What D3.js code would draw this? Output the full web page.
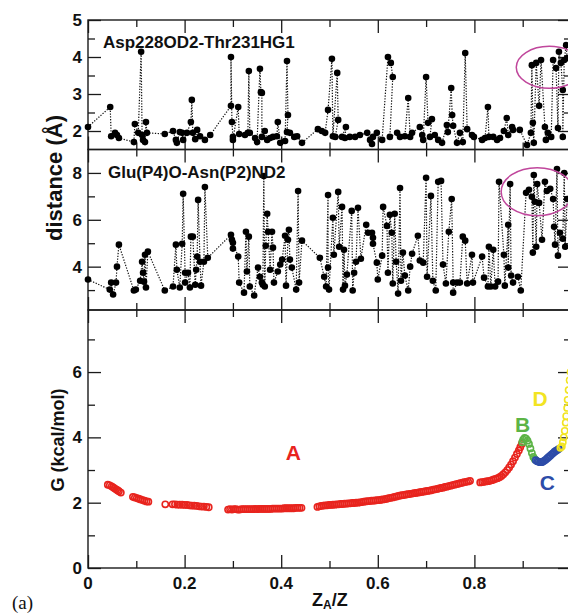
<!DOCTYPE html>
<html>
<head>
<meta charset="utf-8">
<script src="https://cdn.jsdelivr.net/npm/d3@7"></script>
<style>
body { margin: 0; background: #fff; }
svg { display: block; font-family: "Liberation Sans", Arial, sans-serif; }
</style>
</head>
<body>
<div id="chart"></div>
<script>
const [WIDTH, HEIGHT] = [568, 614]
const PLOT = { left: 88, right: 571 }

// top panel: Asp228OD2-Thr231HG1 distance vs Z_A/Z
const aspThr = [
  [0.000,2.11],[0.046,2.65],[0.048,1.86],[0.056,1.95],[0.060,1.89],[0.064,1.81],[0.095,1.70],[0.097,2.19],
  [0.104,1.95],[0.110,4.14],[0.112,1.89],[0.114,1.76],[0.118,1.70],[0.120,2.24],[0.122,1.95],[0.159,1.92],
  [0.176,2.00],[0.182,1.76],[0.184,1.68],[0.190,1.97],[0.195,1.95],[0.197,1.76],[0.205,1.95],[0.213,2.24],
  [0.215,2.84],[0.217,1.95],[0.222,1.78],[0.226,2.03],[0.232,1.86],[0.242,1.76],[0.253,1.89],[0.296,2.68],
  [0.296,4.00],[0.298,2.24],[0.300,1.84],[0.300,1.76],[0.311,2.65],[0.313,1.92],[0.325,1.89],[0.331,1.95],
  [0.333,3.62],[0.335,1.95],[0.346,1.81],[0.350,1.70],[0.356,3.68],[0.358,3.05],[0.360,3.03],[0.360,1.84],
  [0.366,2.00],[0.371,1.76],[0.377,1.81],[0.383,1.84],[0.391,1.86],[0.393,2.24],[0.398,1.68],[0.408,1.73],
  [0.412,3.89],[0.414,2.43],[0.412,1.97],[0.418,1.95],[0.427,1.84],[0.433,1.86],[0.443,1.68],[0.476,2.05],
  [0.484,2.00],[0.491,1.95],[0.497,2.57],[0.505,3.95],[0.507,1.86],[0.516,3.57],[0.518,2.30],[0.512,1.84],
  [0.526,1.84],[0.534,2.11],[0.532,1.81],[0.542,1.84],[0.553,1.84],[0.563,1.89],[0.578,1.95],[0.584,1.76],
  [0.588,1.65],[0.590,1.84],[0.598,1.95],[0.609,1.76],[0.621,4.00],[0.627,3.84],[0.631,3.46],[0.625,1.84],
  [0.640,1.95],[0.646,1.84],[0.656,1.86],[0.663,2.89],[0.667,1.84],[0.671,1.95],[0.687,2.11],[0.692,1.89],
  [0.694,1.76],[0.700,3.46],[0.704,2.22],[0.712,2.32],[0.708,1.84],[0.718,1.89],[0.725,1.76],[0.733,1.68],
  [0.743,2.16],[0.745,1.97],[0.752,3.16],[0.754,2.43],[0.756,2.14],[0.764,1.68],[0.770,1.95],[0.776,1.70],
  [0.781,4.11],[0.785,2.05],[0.795,1.89],[0.799,1.84],[0.816,1.76],[0.822,1.81],[0.828,2.65],[0.830,1.84],
  [0.839,1.84],[0.847,1.76],[0.853,1.81],[0.861,2.00],[0.867,2.35],[0.870,1.89],[0.878,2.11],[0.880,2.03],
  [0.894,2.03],[0.909,1.62],[0.917,1.95],[0.919,3.78],[0.921,2.22],[0.923,1.68],[0.928,3.84],[0.934,2.68],
  [0.938,3.92],[0.946,2.11],[0.948,1.76],[0.952,1.95],[0.959,1.84],[0.963,3.92],[0.969,3.70],[0.973,2.08],
  [0.975,4.14],[0.979,3.84],[0.983,3.11],[0.983,1.84],[0.986,3.92],[0.990,4.32],[0.992,3.97]
]

// middle panel: Glu(P4)O-Asn(P2)ND2 distance
const gluAsn = [
  [0.000,3.45],[0.045,3.02],[0.048,3.32],[0.052,2.81],[0.058,3.32],[0.060,4.00],[0.064,4.94],[0.095,2.98],
  [0.099,3.02],[0.108,3.40],[0.112,4.21],[0.114,3.74],[0.116,3.36],[0.118,4.51],[0.120,3.11],[0.124,4.64],
  [0.159,2.98],[0.176,3.15],[0.182,4.94],[0.184,3.87],[0.190,3.11],[0.195,4.98],[0.197,7.11],[0.201,3.74],
  [0.201,3.32],[0.207,3.74],[0.211,3.11],[0.213,5.28],[0.217,5.28],[0.222,3.23],[0.224,3.87],[0.226,4.43],
  [0.228,6.85],[0.232,4.21],[0.234,3.19],[0.240,4.21],[0.242,7.40],[0.248,4.38],[0.296,5.36],[0.298,5.15],
  [0.300,4.77],[0.300,5.02],[0.311,4.43],[0.313,3.32],[0.323,2.89],[0.327,5.49],[0.329,3.79],[0.333,5.28],
  [0.335,3.15],[0.344,2.77],[0.352,3.96],[0.356,3.57],[0.360,3.32],[0.362,3.23],[0.364,7.87],[0.366,3.15],
  [0.368,4.89],[0.371,6.26],[0.373,5.49],[0.377,3.87],[0.381,5.49],[0.383,4.81],[0.385,3.32],[0.393,3.79],
  [0.398,4.09],[0.402,4.30],[0.408,5.32],[0.410,3.19],[0.414,5.15],[0.416,5.57],[0.418,4.30],[0.422,3.96],
  [0.431,3.02],[0.435,7.23],[0.437,3.32],[0.443,5.11],[0.480,4.38],[0.489,3.57],[0.493,3.15],[0.497,7.06],
  [0.497,3.96],[0.499,3.02],[0.507,6.09],[0.509,4.51],[0.518,7.19],[0.520,4.85],[0.526,6.55],[0.528,3.02],
  [0.530,4.72],[0.532,3.19],[0.536,3.66],[0.546,6.38],[0.548,2.98],[0.551,3.74],[0.555,4.21],[0.559,6.51],
  [0.565,4.34],[0.576,5.79],[0.580,5.45],[0.588,5.45],[0.590,5.23],[0.590,4.98],[0.598,4.17],[0.600,3.45],
  [0.609,4.47],[0.611,6.55],[0.619,5.74],[0.621,3.74],[0.625,6.21],[0.629,5.45],[0.631,3.28],[0.635,6.26],
  [0.638,4.21],[0.642,2.85],[0.646,7.36],[0.648,3.40],[0.652,4.60],[0.656,3.62],[0.663,2.98],[0.667,4.00],
  [0.671,4.55],[0.683,5.32],[0.687,4.26],[0.694,4.17],[0.700,7.79],[0.702,3.57],[0.710,7.02],[0.714,3.40],
  [0.720,2.98],[0.725,7.62],[0.731,7.66],[0.735,4.09],[0.741,3.28],[0.747,5.49],[0.753,6.89],[0.756,3.32],
  [0.756,2.89],[0.764,3.32],[0.770,3.32],[0.776,5.28],[0.781,5.11],[0.785,3.28],[0.795,4.51],[0.797,3.32],
  [0.816,4.43],[0.820,3.53],[0.828,3.15],[0.830,4.85],[0.834,3.15],[0.839,4.72],[0.843,3.15],[0.849,3.36],
  [0.851,7.62],[0.861,4.51],[0.863,3.19],[0.870,5.79],[0.870,3.96],[0.874,7.53],[0.876,3.62],[0.880,3.32],
  [0.890,3.57],[0.896,2.98],[0.907,7.15],[0.913,7.28],[0.919,6.98],[0.921,4.60],[0.923,7.91],[0.925,6.77],
  [0.928,4.85],[0.930,7.53],[0.934,6.72],[0.940,5.15],[0.946,7.62],[0.950,7.23],[0.957,7.32],[0.963,6.89],
  [0.965,5.70],[0.967,4.94],[0.971,8.17],[0.973,4.47],[0.977,5.45],[0.983,5.19],[0.986,8.00],[0.988,4.85],
  [0.992,6.89]
]

// bottom panel: free energy G (kcal/mol), regions A-D
const regionA = [
  [0.041,2.55],[0.045,2.53],[0.049,2.50],[0.052,2.47],[0.055,2.44],[0.058,2.41],[0.061,2.38],[0.064,2.35],[0.068,2.31],
  [0.093,2.18],[0.097,2.16],[0.101,2.14],[0.105,2.12],[0.109,2.10],[0.113,2.08],[0.117,2.06],[0.121,2.04],[0.125,2.03],
  [0.160,1.95],
  [0.175,1.95],[0.180,1.95],[0.185,1.94],[0.190,1.94],[0.195,1.94],[0.200,1.93],[0.205,1.93],[0.210,1.92],
  [0.215,1.91],[0.220,1.91],[0.225,1.90],[0.230,1.89],[0.235,1.88],[0.240,1.88],[0.245,1.87],[0.250,1.86],
  [0.290,1.79],[0.294,1.80],[0.298,1.79],[0.302,1.80],[0.306,1.80],[0.310,1.79],[0.314,1.79],[0.318,1.80],
  [0.322,1.80],[0.326,1.80],[0.330,1.80],[0.334,1.80],[0.338,1.80],[0.342,1.80],[0.346,1.81],[0.350,1.80],
  [0.354,1.81],[0.358,1.81],[0.362,1.81],[0.366,1.81],[0.370,1.81],[0.374,1.81],[0.378,1.81],[0.382,1.82],
  [0.386,1.82],[0.390,1.82],[0.394,1.82],[0.398,1.82],[0.402,1.82],[0.406,1.83],[0.410,1.83],[0.414,1.83],
  [0.418,1.83],[0.422,1.83],[0.426,1.83],[0.430,1.84],[0.434,1.84],[0.438,1.84],[0.442,1.84],
  [0.475,1.87],[0.479,1.89],[0.483,1.90],[0.487,1.91],[0.491,1.92],[0.495,1.92],[0.499,1.93],[0.503,1.93],
  [0.507,1.94],[0.511,1.94],[0.515,1.95],[0.519,1.95],[0.523,1.96],[0.527,1.96],[0.531,1.97],[0.535,1.97],
  [0.539,1.98],[0.543,1.98],[0.547,1.99],[0.551,1.99],[0.555,2.00],[0.559,2.00],[0.563,2.01],[0.567,2.02],
  [0.571,2.03],[0.575,2.04],[0.579,2.05],[0.583,2.05],[0.587,2.06],[0.591,2.06],[0.595,2.07],[0.599,2.08],
  [0.603,2.08],[0.607,2.09],[0.611,2.10],[0.615,2.11],[0.619,2.12],[0.623,2.14],[0.627,2.15],[0.631,2.16],
  [0.635,2.18],[0.639,2.19],[0.643,2.21],[0.647,2.22],[0.651,2.23],[0.655,2.24],[0.659,2.25],[0.663,2.26],
  [0.667,2.27],[0.671,2.28],[0.675,2.29],[0.679,2.30],[0.683,2.31],[0.687,2.32],[0.691,2.33],[0.695,2.34],
  [0.699,2.35],[0.703,2.36],[0.707,2.37],[0.711,2.38],[0.715,2.40],[0.719,2.41],[0.723,2.42],[0.727,2.44],
  [0.731,2.45],[0.735,2.46],[0.739,2.48],[0.743,2.49],[0.747,2.51],[0.751,2.52],[0.755,2.54],[0.759,2.55],
  [0.763,2.57],[0.767,2.58],[0.771,2.60],[0.775,2.61],[0.779,2.63],[0.783,2.64],[0.787,2.65],[0.791,2.67],
  [0.812,2.62],[0.816,2.63],[0.820,2.64],[0.824,2.65],[0.828,2.66],[0.832,2.67],[0.836,2.69],[0.840,2.71],
  [0.844,2.73],[0.848,2.75],[0.852,2.78],[0.856,2.82],[0.860,2.87],[0.864,2.93],[0.868,3.00],[0.872,3.08],
  [0.876,3.17],[0.880,3.27],[0.884,3.38],[0.888,3.49],[0.892,3.60],[0.895,3.70],[0.898,3.80]
]
const regionB = [[0.899,3.85],[0.901,3.93],[0.904,3.98],[0.907,3.96],[0.910,3.90],[0.913,3.80],[0.916,3.66],
  [0.919,3.52],[0.922,3.40],[0.925,3.33]]
const regionC = [[0.927,3.30],[0.930,3.27],[0.933,3.25],[0.936,3.24],[0.939,3.24],[0.942,3.26],[0.945,3.29],
  [0.948,3.32],[0.951,3.36],[0.954,3.40],[0.957,3.44],[0.960,3.48],[0.963,3.52],[0.966,3.56],[0.969,3.59],
  [0.972,3.62],[0.975,3.65]]
const regionD = [[0.978,3.68],[0.981,3.72],[0.983,3.85],[0.985,4.00],[0.987,4.20],[0.989,4.45],[0.990,4.65],
  [0.992,4.90],[0.993,5.15],[0.995,5.45],[0.997,5.75],[0.999,6.00]]

const xMajor = [0, 0.2, 0.4, 0.6, 0.8, 1.0]
const xMinor = [0.1, 0.3, 0.5, 0.7, 0.9]
const xLabels = [0, 0.2, 0.4, 0.6, 0.8]

const panels = [
  { top: 20, bottom: 149.5, domain: [1.5, 5], major: [2, 3, 4, 5], minor: [2.5, 3.5, 4.5], data: aspThr,
    title: 'Asp228OD2-Thr231HG1', titleX: 103, titleY: 48 },
  { top: 149.5, bottom: 310, domain: [2.15, 9], major: [4, 6, 8], minor: [3, 5, 7], data: gluAsn,
    title: 'Glu(P4)O-Asn(P2)ND2', titleX: 108, titleY: 178 },
  { top: 310, bottom: 568, domain: [0, 7.9], major: [0, 2, 4, 6], minor: [1, 3, 5, 7] },
]

const x = d3.scaleLinear([0, 1], [PLOT.left, PLOT.right])
const svg = d3.select('#chart').append('svg')
  .attr('width', WIDTH).attr('height', HEIGHT)

function frame(p) {
  const y = d3.scaleLinear(p.domain, [p.bottom, p.top])
  const g = svg.append('g').attr('class', 'frame')
  const ax = (axis, tx, ty) => g.append('g')
    .attr('transform', `translate(${tx},${ty})`)
    .call(axis)
    .call(s => s.select('.domain').remove())

  const fmtY = d3.format('d')
  ax(d3.axisLeft(y).tickValues(p.major).tickSize(-13).tickPadding(6).tickFormat(fmtY), PLOT.left, 0)
  ax(d3.axisLeft(y).tickValues(p.minor).tickSize(-7).tickFormat(''), PLOT.left, 0)
  ax(d3.axisRight(y).tickValues(p.major).tickSize(-13).tickFormat(''), PLOT.right, 0)
  ax(d3.axisRight(y).tickValues(p.minor).tickSize(-7).tickFormat(''), PLOT.right, 0)
  ax(d3.axisTop(x).tickValues(xMajor).tickSize(-13).tickFormat(''), 0, p.top)
  ax(d3.axisTop(x).tickValues(xMinor).tickSize(-7).tickFormat(''), 0, p.top)
  ax(d3.axisBottom(x).tickValues(xMajor).tickSize(-13).tickFormat(''), 0, p.bottom)
  ax(d3.axisBottom(x).tickValues(xMinor).tickSize(-7).tickFormat(''), 0, p.bottom)

  g.append('rect')
    .attr('x', PLOT.left).attr('y', p.top)
    .attr('width', PLOT.right - PLOT.left).attr('height', p.bottom - p.top)
    .attr('fill', 'none').attr('stroke', '#1a1a1a').attr('stroke-width', 1.4)

  g.selectAll('.tick line').attr('stroke', '#1a1a1a').attr('stroke-width', 1.3)
  g.selectAll('.tick text')
    .attr('font-size', 17).attr('font-weight', 'bold').attr('fill', '#111')
    .attr('font-family', '"Liberation Sans", Arial, sans-serif')
  return y
}

function distancePanel(p) {
  const y = frame(p)
  const line = d3.line().x(d => x(d[0])).y(d => y(d[1]))
  svg.append('path')
    .datum(p.data)
    .attr('d', line)
    .attr('fill', 'none')
    .attr('stroke', '#111')
    .attr('stroke-width', 1.2)
    .attr('stroke-dasharray', '1.3,1.5')
  svg.append('g').selectAll('circle')
    .data(p.data).join('circle')
    .attr('cx', d => x(d[0])).attr('cy', d => y(d[1]))
    .attr('r', 3.3).attr('fill', '#000')
  svg.append('text')
    .attr('x', p.titleX).attr('y', p.titleY)
    .attr('font-size', 17).attr('font-weight', 'bold').attr('fill', '#111')
    .text(p.title)
  return y
}

const y1 = distancePanel(panels[0])
const y2 = distancePanel(panels[1])
const y3 = frame(panels[2])

// free energy profile, open circles coloured by region
const regions = [
  { data: regionA, color: '#e8241e' },
  { data: regionB, color: '#5cb446' },
  { data: regionC, color: '#2d4ca8' },
  { data: regionD, color: '#f2e422' },
]
regions.forEach(r => {
  svg.append('g').selectAll('circle')
    .data(r.data).join('circle')
    .attr('cx', d => x(d[0])).attr('cy', d => y3(d[1]))
    .attr('r', 3.1).attr('fill', 'none')
    .attr('stroke', r.color).attr('stroke-width', 1.6)
})

const regionLabels = [
  { t: 'A', x: 0.425, y: 3.3, c: '#e8241e' },
  { t: 'B', x: 0.900, y: 4.16, c: '#5cb446' },
  { t: 'C', x: 0.951, y: 2.38, c: '#2d4ca8' },
  { t: 'D', x: 0.936, y: 4.95, c: '#f2e422' },
]
svg.append('g').selectAll('text')
  .data(regionLabels).join('text')
  .attr('x', d => x(d.x)).attr('y', d => y3(d.y))
  .attr('text-anchor', 'middle')
  .attr('font-size', 21).attr('font-weight', 'bold')
  .attr('fill', d => d.c)
  .text(d => d.t)

// x tick labels at the bottom only
svg.append('g').selectAll('text')
  .data(xLabels).join('text')
  .attr('x', d => x(d)).attr('y', 589)
  .attr('text-anchor', 'middle')
  .attr('font-size', 17).attr('font-weight', 'bold').attr('fill', '#111')
  .text(d => d === 0 ? '0' : d3.format('.1f')(d))

// highlighted regions
svg.append('ellipse')
  .attr('cx', x(0.955)).attr('cy', y1(3.72)).attr('rx', 33).attr('ry', 21)
  .attr('fill', 'none').attr('stroke', '#c0479c').attr('stroke-width', 1.5)
svg.append('ellipse')
  .attr('cx', x(0.93)).attr('cy', y2(7.2)).attr('rx', 36).attr('ry', 24)
  .attr('fill', 'none').attr('stroke', '#c0479c').attr('stroke-width', 1.5)

// axis titles
svg.append('text')
  .attr('transform', `translate(62,178) rotate(-90)`)
  .attr('text-anchor', 'middle')
  .attr('font-size', 22).attr('font-weight', 'bold').attr('fill', '#111')
  .text('distance (Å)')
svg.append('text')
  .attr('transform', `translate(64,440) rotate(-90)`)
  .attr('text-anchor', 'middle')
  .attr('font-size', 18).attr('font-weight', 'bold').attr('fill', '#111')
  .text('G (kcal/mol)')

const xt = svg.append('text')
  .attr('x', 312).attr('y', 606)
  .attr('font-size', 18).attr('font-weight', 'bold').attr('fill', '#111')
xt.append('tspan').text('Z')
xt.append('tspan').attr('font-size', 12).attr('dy', 3).text('A')
xt.append('tspan').attr('dy', -3).text('/Z')

svg.append('text')
  .attr('x', 12).attr('y', 609)
  .attr('font-family', '"Liberation Serif", "Times New Roman", serif')
  .attr('font-size', 19).attr('fill', '#111')
  .text('(a)')
</script>
</body>
</html>
